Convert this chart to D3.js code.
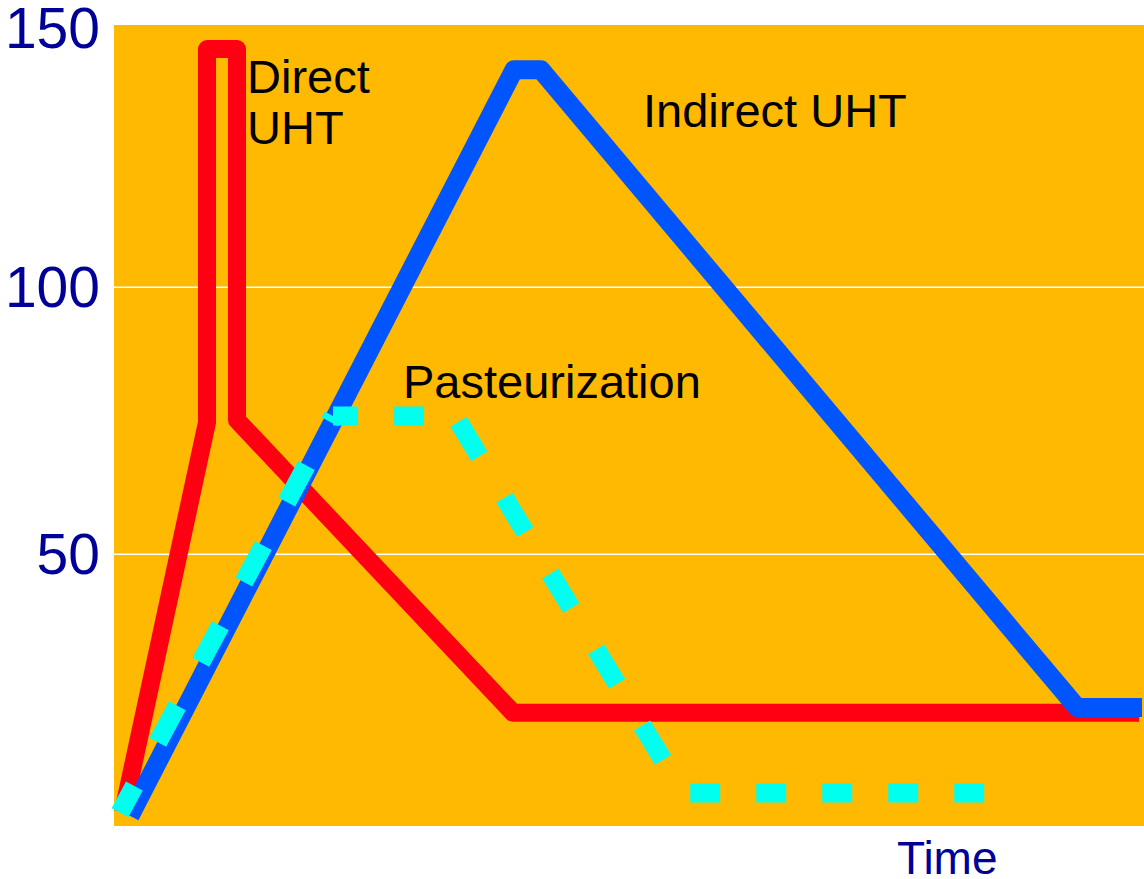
<!DOCTYPE html>
<html>
<head>
<meta charset="utf-8">
<script src="https://cdnjs.cloudflare.com/ajax/libs/d3/7.8.5/d3.min.js"></script>
<style>
  html, body { margin: 0; padding: 0; background: #fff; }
  svg { display: block; font-family: "Liberation Sans", Arial, sans-serif; }
</style>
</head>
<body>
<script>
// Temperature (°C) against time (arbitrary units) for three heat treatments
const directTime = [0.9, 9.3, 9.3, 12.3, 12.3, 39.9, 102.5];
const directTemp = [1.6, 74.6, 144.5, 144.5, 75, 20.2, 20.2];

const indirectTime = [1.6, 40, 42.7, 96.3, 102.8];
const indirectTemp = [0.9, 140.6, 140.6, 21.2, 21.2];

const pastTime = [0.6, 21.9, 34.1, 56.9, 87.6];
const pastTemp = [1.5, 75.8, 75.8, 5.2, 5.2];

const yTicks = [50, 100, 150];
const gridTicks = [50, 100];

const width = 1144;
const height = 879;
const plot = { left: 114, right: 1144, top: 25, bottom: 826 };

const x = d3.scaleLinear().domain([0, 103]).range([plot.left, plot.right]);
const y = d3.scaleLinear().domain([-1, 149]).range([plot.bottom, plot.top]);

const svg = d3
    .select('body')
    .append('svg')
    .attr('width', width)
    .attr('height', height);

// Plot background
svg
    .append('rect')
    .attr('x', plot.left)
    .attr('y', plot.top)
    .attr('width', plot.right - plot.left)
    .attr('height', plot.bottom - plot.top)
    .attr('fill', '#FFB900');

// Gridlines
svg
    .append('g')
    .attr('transform', `translate(${plot.left}, 0)`)
    .call(d3.axisLeft(y).tickValues(gridTicks).tickSize(-(plot.right - plot.left)).tickFormat(''))
    .call(g => g.select('.domain').remove())
    .call(g => g.selectAll('line').attr('stroke', '#fff').attr('stroke-width', 1.5));

// Y-axis labels
svg
    .append('g')
    .attr('transform', `translate(${plot.left}, 0)`)
    .call(d3.axisLeft(y).tickValues(yTicks).tickSize(0).tickPadding(14))
    .call(g => g.select('.domain').remove())
    .call(g =>
        g
            .selectAll('text')
            .attr('fill', '#000099')
            .style('font-size', '57px')
            .style('font-family', '"Liberation Sans", Arial, sans-serif')
            .attr('dy', d => (d === 150 ? '0.48em' : '0.35em'))
    );

const line = d3
    .line()
    .x(d => x(d[0]))
    .y(d => y(d[1]));

const zip = (a, b) => a.map((v, i) => [v, b[i]]);

// Direct UHT
svg
    .append('path')
    .attr('d', line(zip(directTime, directTemp)))
    .attr('fill', 'none')
    .attr('stroke', '#FF0012')
    .attr('stroke-width', 18)
    .attr('stroke-linejoin', 'round');

// Indirect UHT
svg
    .append('path')
    .attr('d', line(zip(indirectTime, indirectTemp)))
    .attr('fill', 'none')
    .attr('stroke', '#0055FF')
    .attr('stroke-width', 19)
    .attr('stroke-linejoin', 'round');

// Pasteurization: dashes look stretched vertically in the original, so the
// dash pattern is drawn per segment and scaled by the segment's direction
const stretch = 1.6;
const dashLen = 30;
const gapLen = 36;
const phase = 8;
const pastPts = zip(pastTime, pastTemp).map(d => [x(d[0]), y(d[1])]);
let cum = 0;
for (let i = 0; i < pastPts.length - 1; i++) {
    const [x0, y0] = pastPts[i];
    const [x1, y1] = pastPts[i + 1];
    const dx = x1 - x0;
    const dy = y1 - y0;
    const len = Math.hypot(dx, dy);
    const flat = Math.hypot(dx, dy / stretch);
    const f = len / flat;
    svg
        .append('path')
        .attr('d', d3.line()([pastPts[i], pastPts[i + 1]]))
        .attr('fill', 'none')
        .attr('stroke', '#00FFEE')
        .attr('stroke-width', 19)
        .attr('stroke-dasharray', `${dashLen * f},${gapLen * f}`)
        .attr('stroke-dashoffset', (cum + phase) * f);
    cum += flat;
}

// Series labels
const labels = [
    { lines: ['Direct', 'UHT'], x: 247, y: 93 },
    { lines: ['Indirect UHT'], x: 643, y: 127 },
    { lines: ['Pasteurization'], x: 403, y: 398 }
];

labels.forEach(l => {
    svg
        .append('text')
        .attr('x', l.x)
        .attr('y', l.y)
        .attr('fill', '#000')
        .style('font-size', '47px')
        .selectAll('tspan')
        .data(l.lines)
        .enter()
        .append('tspan')
        .attr('x', l.x)
        .attr('dy', (d, i) => (i === 0 ? 0 : 51))
        .text(d => d);
});

// X-axis title
svg
    .append('text')
    .attr('x', 897)
    .attr('y', 874)
    .attr('fill', '#000099')
    .style('font-size', '46px')
    .text('Time');
</script>
</body>
</html>
